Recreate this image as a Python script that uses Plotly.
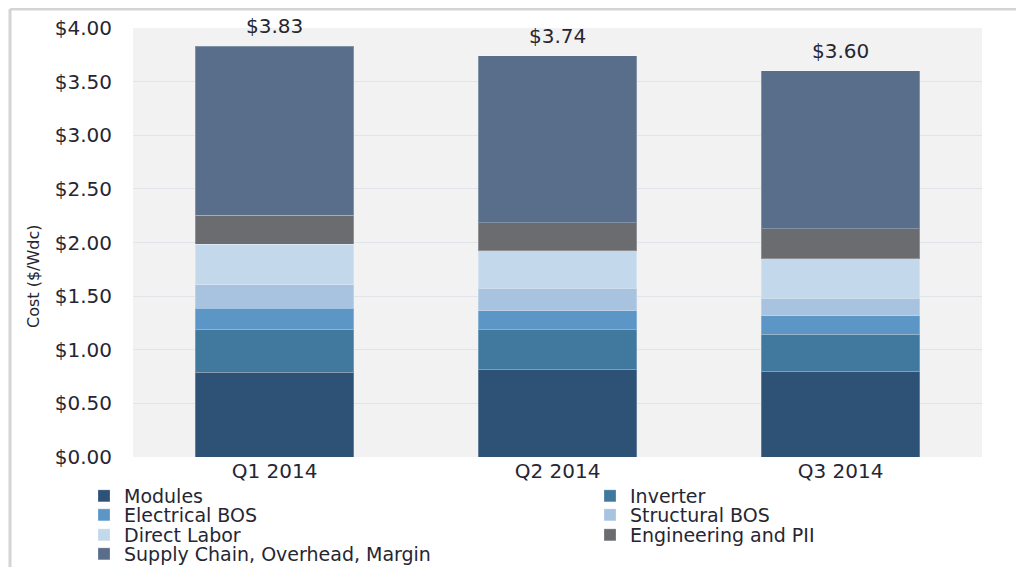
import plotly.graph_objects as go

quarters = ["Q1 2014", "Q2 2014", "Q3 2014"]
series_names = ["Modules", "Inverter", "Electrical BOS", "Structural BOS",
                "Direct Labor", "Engineering and PII", "Supply Chain, Overhead, Margin"]
modules = [0.79, 0.82, 0.80]
inverter = [0.40, 0.365, 0.345]
electrical_bos = [0.197, 0.177, 0.174]
structural_bos = [0.217, 0.212, 0.161]
direct_labor = [0.379, 0.348, 0.367]
engineering_pii = [0.273, 0.264, 0.28]
supply_chain = [1.574, 1.554, 1.473]
totals = [3.83, 3.74, 3.60]
total_labels = ["$3.83", "$3.74", "$3.60"]
y_ticks = [0, 0.5, 1.0, 1.5, 2.0, 2.5, 3.0, 3.5, 4.0]

colors = ["#2d5275", "#41789e", "#5b96c6", "#a7c3e0", "#c4d8eb", "#6b6c70", "#586e8a"]
values = [modules, inverter, electrical_bos, structural_bos, direct_labor, engineering_pii, supply_chain]

FONT = "DejaVu Sans"
TXT = "#262633"

OFF = 8  # page body margin
W, H = 1024 - OFF, 567 - OFF
ML, MR, MT, MB = 133 - OFF, 42, 28 - OFF, 110
PW = W - ML - MR
PH = H - MT - MB

def px_x(px):  # page px -> paper
    return (px - OFF - ML) / PW

def px_y(py):
    return (H - MB - (py - OFF)) / PH

legend_ids = ["legend", "legend2", "legend3", "legend4", "legend5", "legend6", "legend7"]
col_left = [84, 590]
row_center = [496, 515, 535, 554]
positions = [(0, 0), (1, 0), (0, 1), (1, 1), (0, 2), (1, 2), (0, 3)]

fig = go.Figure()
for name, vals, col, lg in zip(series_names, values, colors, legend_ids):
    fig.add_trace(go.Bar(
        x=quarters, y=vals, name=name, legend=lg,
        marker=dict(color=col, line=dict(color="rgba(255,255,255,0.25)", width=1)),
        hoverinfo="skip",
    ))

for q, t, lab in zip(quarters, totals, total_labels):
    fig.add_annotation(x=q, y=t, text=lab, showarrow=False, yanchor="middle", yshift=20,
                       font=dict(family=FONT, size=20, color=TXT))

fig.add_annotation(xref="paper", yref="paper", x=px_x(33), y=px_y(277), text="Cost ($/Wdc)",
                   textangle=-90, showarrow=False, xanchor="center", yanchor="middle",
                   font=dict(family=FONT, size=16, color=TXT))

fig.add_shape(type="line", xref="paper", yref="paper", x0=px_x(10), x1=px_x(1030), y0=px_y(9), y1=px_y(9),
              line=dict(color="#d4d4d4", width=3))
fig.add_shape(type="line", xref="paper", yref="paper", x0=px_x(10), x1=px_x(10), y0=px_y(9), y1=px_y(575),
              line=dict(color="#d4d4d4", width=3))

leg_font = dict(family=FONT, size=19, color=TXT)
layout_legends = {}
for lid, (c, r) in zip(legend_ids, positions):
    layout_legends[lid] = dict(orientation="v", xanchor="left", yanchor="top",
                               x=px_x(col_left[c]), y=px_y(row_center[r] - 19),
                               font=leg_font, bgcolor="rgba(0,0,0,0)", itemclick=False)

fig.update_layout(
    width=W, height=H,
    margin=dict(l=ML, r=MR, t=MT, b=MB, autoexpand=False),
    barmode="stack", bargap=0.44,
    paper_bgcolor="white", plot_bgcolor="#f2f2f2",
    showlegend=True,
    font=dict(family=FONT, color=TXT),
    xaxis=dict(tickfont=dict(family=FONT, size=20, color=TXT), showgrid=False, zeroline=False,
               showline=False, ticks=""),
    yaxis=dict(range=[0, 4], tickvals=y_ticks, tickformat="$.2f",
               tickfont=dict(family=FONT, size=20, color=TXT), showgrid=True,
               gridcolor="#e1e4e9", gridwidth=1, zeroline=False, showline=False,
               ticks="", ticklabelstandoff=20),
    **layout_legends,
)

fig.write_html("out.html")
